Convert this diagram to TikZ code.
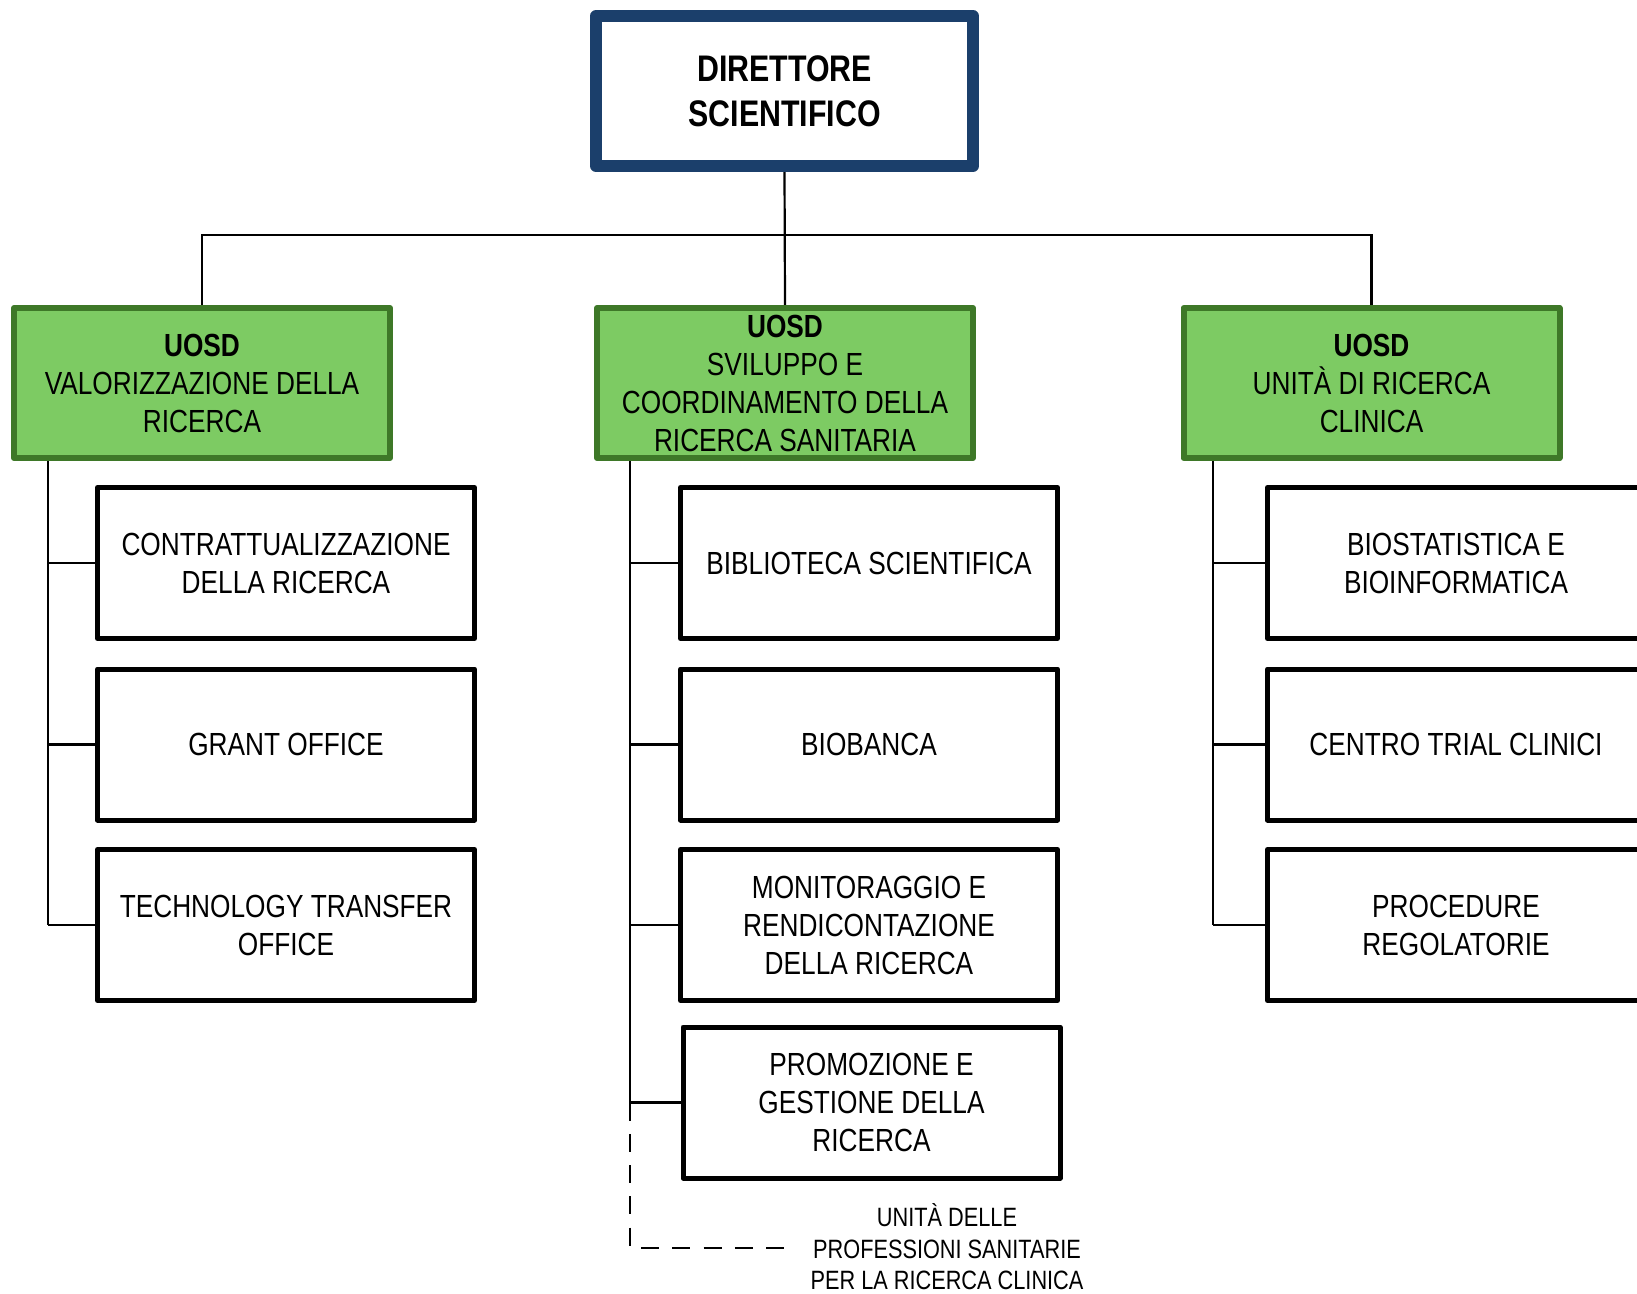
\documentclass[tikz,border=0pt]{standalone}
\usepackage{fontspec}
\setmainfont[FakeStretch=0.82]{Liberation Sans}
\usetikzlibrary{backgrounds}
\definecolor{dirblue}{RGB}{27,63,107}
\definecolor{ugreen}{RGB}{125,203,99}
\definecolor{ugreenb}{RGB}{62,120,40}
\begin{document}
\begin{tikzpicture}[x=0.5pt,y=-0.5pt,
  dirbox/.style={draw=dirblue, line width=6pt, line join=round, fill=white,
    minimum width=188.5pt, minimum height=75pt, inner sep=0pt, align=center,
    font=\fontsize{18.5}{22.5}\selectfont\bfseries},
  uosd/.style={draw=ugreenb, line width=3pt, line join=round, fill=ugreen,
    minimum width=188pt, minimum height=75pt, inner sep=0pt, align=center,
    font=\fontsize{16}{19}\selectfont},
  unit/.style={draw=black, line width=2.5pt, line join=round, fill=white,
    minimum width=188.5pt, minimum height=75.5pt, inner sep=0pt, align=center,
    font=\fontsize{16}{19}\selectfont},
  conn/.style={draw=black, line width=1.1pt},
  dconn/.style={conn, dash pattern=on 9pt off 6.65pt},
  note/.style={inner sep=0pt, align=center, font=\fontsize{13.25}{15.75}\selectfont}
]
\useasboundingbox (0,0) rectangle (1637,1294);
\clip (0,0) rectangle (1637,1294);

% top
\node[dirbox] (dir) at (784.5,91) {DIRETTORE\\SCIENTIFICO};

% UOSD boxes
\node[uosd] (lg) at (202,383) {\textbf{UOSD}\\VALORIZZAZIONE DELLA\\RICERCA};
\node[uosd] (mg) at (785,383) {\textbf{UOSD}\\SVILUPPO E\\COORDINAMENTO DELLA\\RICERCA SANITARIA};
\node[uosd] (rg) at (1371.5,383) {\textbf{UOSD}\\UNIT\smash{À} DI RICERCA\\CLINICA};

% left column
\node[unit] (l1) at (286,563) {CONTRATTUALIZZAZIONE\\DELLA RICERCA};
\node[unit] (l2) at (286,744.5) {GRANT OFFICE};
\node[unit] (l3) at (286,925) {TECHNOLOGY TRANSFER\\OFFICE};

% middle column
\node[unit] (m1) at (869,563) {BIBLIOTECA SCIENTIFICA};
\node[unit] (m2) at (869,744.5) {BIOBANCA};
\node[unit] (m3) at (869,925) {MONITORAGGIO E\\RENDICONTAZIONE\\DELLA RICERCA};
\node[unit] (m4) at (871.5,1102.5) {PROMOZIONE E\\GESTIONE DELLA\\RICERCA};

% right column
\node[unit] (r1) at (1456,563) {BIOSTATISTICA E\\BIOINFORMATICA};
\node[unit] (r2) at (1456,744.5) {CENTRO TRIAL CLINICI};
\node[unit] (r3) at (1456,925) {PROCEDURE\\REGOLATORIE};

% note
\node[note] (ups) at (947,1249) {UNIT\smash{À} DELLE\\PROFESSIONI SANITARIE\\PER LA RICERCA CLINICA};

\begin{pgfonlayer}{background}
  \coordinate (bar) at (785,235);
  \draw[conn] (dir.south) -- (mg.north);
  \draw[conn] (lg.north) |- (bar) -| (rg.north);

  \coordinate (ls) at (48,458);
  \coordinate (ms) at (630,458);
  \coordinate (rs) at (1213,458);

  \draw[conn] (ls) -- (ls |- l3.west);
  \foreach \n in {l1,l2,l3} \draw[conn] (ls |- \n.west) -- (\n.west);

  \draw[conn] (ms) -- (ms |- m4.west);
  \foreach \n in {m1,m2,m3,m4} \draw[conn] (ms |- \n.west) -- (\n.west);
  \coordinate (mc) at (630,1248);
  \coordinate (me) at (784,1248);
  \draw[dconn] (ms |- m4.west) -- (mc) -- (me);

  \draw[conn] (rs) -- (rs |- r3.west);
  \foreach \n in {r1,r2,r3} \draw[conn] (rs |- \n.west) -- (\n.west);
\end{pgfonlayer}
\end{tikzpicture}
\end{document}
